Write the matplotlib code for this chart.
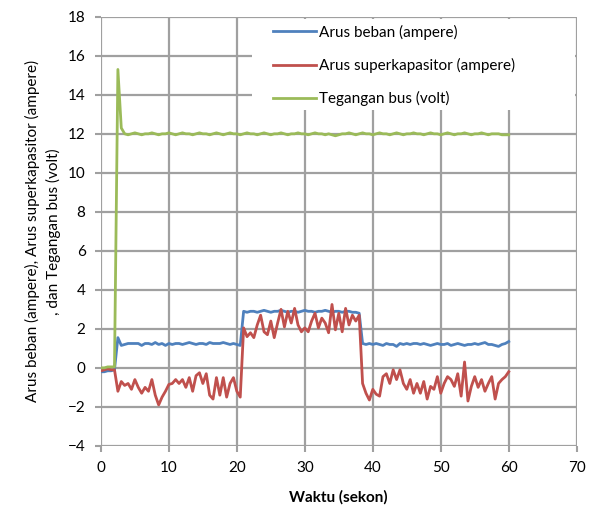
import numpy as np
import matplotlib
matplotlib.use('Agg')
import matplotlib.pyplot as plt
from matplotlib.patches import Rectangle

plt.rcParams['font.family'] = ['Lato', 'DejaVu Sans']

dt = 0.5    # [s] sampling step

# Arus beban (ampere)
i_beban = [-0.2, -0.2, -0.15, -0.15, -0.1, 1.55, 1.15,
           1.2, 1.25, 1.25, 1.25, 1.25, 1.15, 1.25, 1.25, 1.2, 1.3,
           1.2, 1.25, 1.15, 1.25, 1.2, 1.25, 1.25, 1.2, 1.25, 1.3,
           1.25, 1.2, 1.25, 1.25, 1.2, 1.3, 1.25, 1.25, 1.25, 1.3,
           1.25, 1.2, 1.25, 1.2, 1.15,
           2.9, 2.85, 2.9, 2.9, 2.85, 2.9, 2.95, 2.9, 2.85, 2.9,
           2.9, 2.95, 2.9, 2.85, 2.9, 2.9, 2.85, 2.9, 2.95, 2.9,
           2.9, 2.85, 2.9, 2.9, 2.95, 2.9, 2.85, 2.9, 2.9, 2.85,
           2.9, 2.9, 2.85, 2.85, 2.8,
           1.25, 1.2, 1.25, 1.2, 1.25, 1.2, 1.15, 1.25, 1.2, 1.2,
           1.1, 1.25, 1.2, 1.25, 1.2, 1.25, 1.25, 1.2, 1.25, 1.2,
           1.15, 1.2, 1.25, 1.2, 1.2, 1.25, 1.15, 1.2, 1.25, 1.2,
           1.15, 1.2, 1.2, 1.25, 1.2, 1.25, 1.3, 1.2, 1.2, 1.15,
           1.1, 1.2, 1.25, 1.35]

# Arus superkapasitor (ampere)
i_sc = [-0.15, -0.1, -0.05, -0.1, -0.1,
        -1.2, -0.7, -0.9, -0.8, -1.1, -0.6, -1.0, -1.3, -1.0, -1.2,
        -0.6, -1.4, -1.9, -1.5, -1.2, -0.85, -0.8, -0.6, -0.8, -0.6,
        -1.0, -0.5, -1.2, -0.4, -0.25, -0.8, -0.3, -1.4, -1.6, -0.5,
        -1.4, -0.5, -1.5, -0.8, -0.5, -1.2, -1.5,
        2.05, 1.6, 1.8, 1.55, 2.2, 2.7, 1.85, 1.7, 2.4, 1.55,
        2.3, 3.0, 2.1, 2.9, 2.3, 3.05, 2.2, 1.85, 2.05, 1.85,
        2.4, 2.8, 2.05, 2.55, 2.3, 1.8, 3.25, 1.95, 2.8, 1.85,
        3.05, 2.2, 2.7, 2.4, 2.7,
        -0.8, -1.3, -1.65, -1.1, -1.35, -1.45, -0.45, -0.3, -0.8, -0.1,
        -0.6, -0.1, -0.8, -1.1, -0.6, -1.3, -0.8, -1.3, -0.7, -1.6,
        -0.95, -1.1, -0.45, -1.3, -0.8, -0.45, -0.6, -0.95, -0.3, -1.45,
        0.3, -1.7, -0.95, -0.45, -1.0, -0.6, -1.2, -0.8, -0.45, -1.6,
        -0.8, -0.6, -0.45, -0.2]

# Tegangan bus (volt)
v_bus = [0.0, 0.0, 0.05, 0.05, 0.05, 15.3, 12.3,
         12.0, 11.95, 12.0, 12.05, 12.0, 11.95, 12.0, 12.0, 12.05, 12.0,
         11.95, 12.0, 12.0, 12.05, 12.0, 11.95, 12.0, 12.05, 12.0, 12.0,
         11.95, 12.0, 12.05, 12.0, 12.0, 11.95, 12.0, 12.05, 12.0, 11.95,
         12.0, 12.05, 12.0, 12.0, 11.95, 12.0, 12.05, 12.0, 12.0, 11.95,
         12.0, 12.05, 12.0, 11.95, 12.0, 12.0, 12.05, 12.0, 11.95, 12.0,
         12.0, 12.05, 12.0, 12.0, 11.95, 12.0, 12.05, 12.0, 12.0, 11.95,
         12.0, 11.95, 11.9, 11.95, 12.0, 12.0, 12.05, 12.0, 11.95, 12.0,
         12.05, 12.0, 12.0, 11.95, 12.0, 12.05, 12.0, 12.0, 11.95, 12.0,
         12.05, 12.0, 11.95, 12.0, 12.0, 12.05, 12.0, 12.0, 11.95, 12.0,
         12.05, 12.0, 12.0, 11.95, 12.0, 12.05, 12.0, 11.95, 12.0, 12.0,
         12.05, 12.0, 11.95, 12.0, 12.0, 12.05, 12.0, 11.95, 12.0, 12.0,
         12.0, 11.95, 11.95, 11.95]

labels = ['Arus beban (ampere)', 'Arus superkapasitor (ampere)', 'Tegangan bus (volt)']
colors = ['#4F81BD', '#C0504D', '#9BBB59']

fig = plt.figure(figsize=(5.97, 5.09), dpi=100)
ax = fig.add_axes([0.169, 0.124, 0.797, 0.843])

for y, lab, c in zip([i_beban, i_sc, v_bus], labels, colors):
    t = np.arange(len(y)) * dt
    ax.plot(t, y, '-', color=c, lw=2, label=lab, zorder=3)

ax.set_xlim(0, 70)
ax.set_ylim(-4, 18)
ax.set_xticks(np.arange(0, 71, 10))
ax.set_yticks(np.arange(-4, 19, 2))
ax.set_axisbelow(True)
ax.grid(True, color='#a0a0a0', lw=1.6)
for s in ax.spines.values():
    s.set_visible(False)
ax.tick_params(length=4, width=1.5, color='#a0a0a0', labelsize=11, pad=7)

# white legend area covering the grid in the top right corner
ax.add_patch(Rectangle((0.317, 0.783), 0.679, 0.213, transform=ax.transAxes,
                       facecolor='white', edgecolor='none', zorder=1))
ax.legend(loc='upper left', bbox_to_anchor=(0.362, 0.982), frameon=False,
          borderaxespad=0, borderpad=0, handlelength=2.8, handletextpad=0.2,
          labelspacing=1.2, fontsize=11)

ax.set_xlabel('Waktu (sekon)', fontsize=11, fontweight='bold', labelpad=11)
ax.set_ylabel('Arus beban (ampere), Arus superkapasitor (ampere)\n, dan Tegangan bus (volt)',
              fontsize=11, labelpad=5, linespacing=1.5)

fig.savefig('out.png', dpi=100)
